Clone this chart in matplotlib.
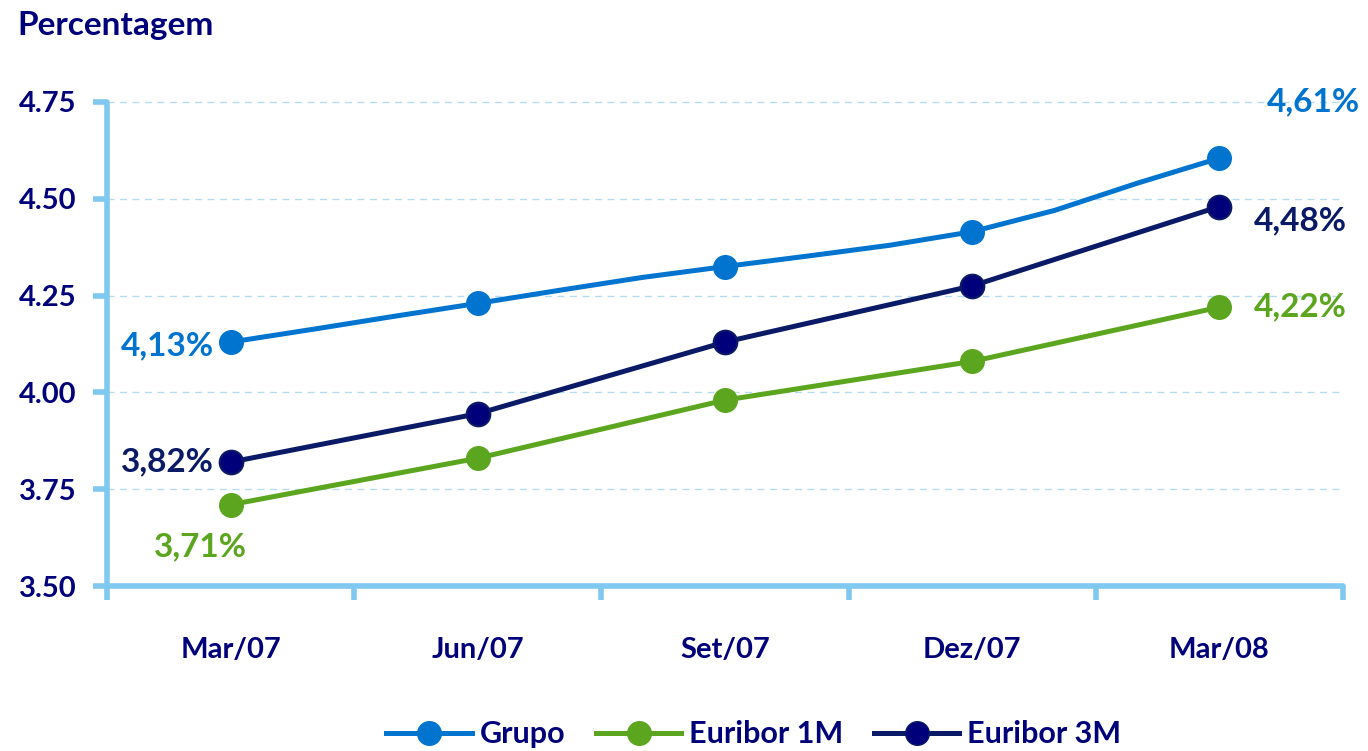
import matplotlib.pyplot as plt
import numpy as np

# quarters shown on the x axis
quarters = ["Mar/07", "Jun/07", "Set/07", "Dez/07", "Mar/08"]

# Grupo: monthly values (markers only at quarter ends)
grupo_monthly = [4.13, 4.163, 4.197, 4.23, 4.264, 4.297, 4.325,
                 4.352, 4.38, 4.415, 4.47, 4.54, 4.605]
euribor_1m = [3.71, 3.83, 3.98, 4.08, 4.22]
euribor_3m = [3.82, 3.945, 4.13, 4.275, 4.48]

labels_grupo = ["4,13%", "4,61%"]
labels_1m = ["3,71%", "4,22%"]
labels_3m = ["3,82%", "4,48%"]

yticks = [3.50, 3.75, 4.00, 4.25, 4.50, 4.75]

c_grupo = "#0074cf"
c_1m = "#5ba61e"
c_3m = "#0b1a66"
c_3m_fill = "#00007a"
c_text = "#00007a"
c_axis = "#7fc8f0"

plt.rcParams['font.family'] = ['Lato', 'DejaVu Sans']
plt.rcParams['font.weight'] = 'bold'

fig = plt.figure(figsize=(13.68, 7.51), dpi=100)
ax = fig.add_axes([0.0782, 0.2197, 0.9035, 0.6445])

xq = np.arange(len(quarters))
xm = np.arange(len(grupo_monthly)) / 3.0
lw = 3.6

ax.plot(xm, grupo_monthly, color=c_grupo, lw=lw, zorder=3)
ax.plot(xq, grupo_monthly[::3], "o", color=c_grupo, ms=17, zorder=4)
ax.plot(xq, euribor_1m, "-o", color=c_1m, lw=lw, ms=17, zorder=3)
ax.plot(xq, euribor_3m, "-o", color=c_3m, mfc=c_3m_fill, mec=c_3m, mew=1.5,
        lw=lw, ms=17, zorder=3)

ax.set_xlim(-0.5, 4.5)
ax.set_ylim(3.5, 4.75)

for y in yticks[1:]:
    ax.axhline(y, color="#b5dcf0", lw=1, ls=(0, (5, 4)), zorder=1, clip_on=False)

for s in ["top", "right"]:
    ax.spines[s].set_visible(False)
for s in ["left", "bottom"]:
    ax.spines[s].set_color(c_axis)
    ax.spines[s].set_linewidth(4)
    ax.spines[s].set_capstyle("round")

ax.set_yticks(yticks)
ax.set_yticklabels(["%.2f" % v for v in yticks])
ax.tick_params(axis="y", length=10, width=4, color=c_axis, pad=12,
               labelsize=21, labelcolor=c_text)

ax.set_xticks(xq)
ax.set_xticklabels(quarters)
ax.set_xticks(np.arange(-0.5, 5.0, 1.0), minor=True)
ax.tick_params(axis="x", which="major", length=0, pad=37, labelsize=21,
               labelcolor=c_text)
ax.tick_params(axis="x", which="minor", length=10, width=4, color=c_axis)

fs = 24
ax.annotate(labels_grupo[0], (0, grupo_monthly[0]), xytext=(-12, -3),
            textcoords="offset points", ha="right", va="center",
            color=c_grupo, fontsize=fs)
ax.annotate(labels_grupo[1], (4, 4.75), xytext=(68, 0),
            textcoords="offset points", ha="center", va="center",
            color=c_grupo, fontsize=fs, annotation_clip=False)
ax.annotate(labels_3m[0], (0, euribor_3m[0]), xytext=(-12, 0),
            textcoords="offset points", ha="right", va="center",
            color=c_3m, fontsize=fs)
ax.annotate(labels_3m[1], (4, euribor_3m[4]), xytext=(58, -10),
            textcoords="offset points", ha="center", va="center",
            color=c_3m, fontsize=fs, annotation_clip=False)
ax.annotate(labels_1m[0], (0, euribor_1m[0]), xytext=(-22, -30),
            textcoords="offset points", ha="center", va="center",
            color=c_1m, fontsize=fs)
ax.annotate(labels_1m[1], (4, euribor_1m[4]), xytext=(58, 0),
            textcoords="offset points", ha="center", va="center",
            color=c_1m, fontsize=fs, annotation_clip=False)

fig.text(0.013, 0.966, "Percentagem", ha="left", va="center",
         color=c_text, fontsize=24)

h1, = ax.plot([], [], "-o", color=c_grupo, lw=lw, ms=17)
h2, = ax.plot([], [], "-o", color=c_1m, lw=lw, ms=17)
h3, = ax.plot([], [], "-o", color=c_3m, mfc=c_3m_fill, lw=lw, ms=17)
leg = fig.legend([h1, h2, h3], ["Grupo", "Euribor 1M", "Euribor 3M"],
                 loc="center", bbox_to_anchor=(0.551, 0.022), ncol=3,
                 frameon=False, handlelength=2.8, handletextpad=0.25,
                 columnspacing=1.0, prop={"size": 22, "weight": "bold"})
for t in leg.get_texts():
    t.set_color(c_text)

fig.savefig("out.png", dpi=100)
